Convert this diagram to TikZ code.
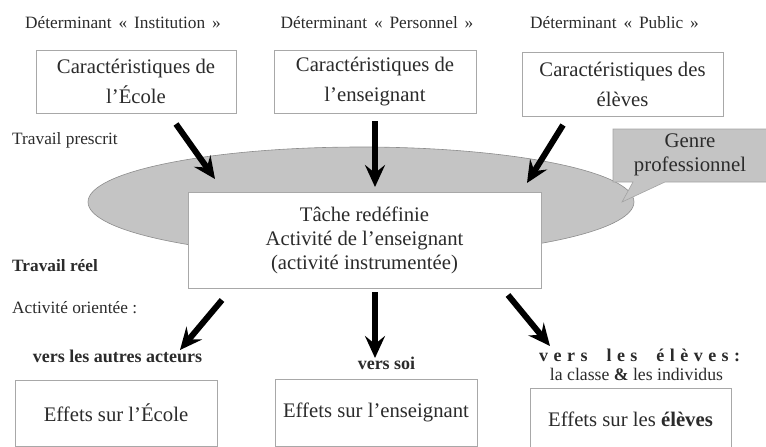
\documentclass[tikz,border=0pt]{standalone}
\usepackage{fontspec}
\setmainfont{Liberation Serif}
\usetikzlibrary{arrows.meta,shapes.geometric}
\definecolor{txt}{HTML}{2B2B2B}
\definecolor{bord}{HTML}{A8A8A8}
\definecolor{ellf}{HTML}{C4C4C4}
\definecolor{ellb}{HTML}{8C8C8C}
\newcommand{\gsp}{\hspace{2.6pt}}
\begin{document}
\begin{tikzpicture}[x=1pt,y=-1pt,
  every node/.style={text=txt, inner sep=0pt},
  box/.style={draw=bord, line width=0.8pt, fill=white, align=center, font=\fontsize{20.7}{30}\selectfont},
  lab/.style={font=\fontsize{17.3}{20}\selectfont},
  blab/.style={font=\fontsize{18}{21}\selectfont\bfseries},
  big/.style={-{Stealth[length=22pt,width=20pt,inset=8pt]}, line width=6pt, black},
]
\useasboundingbox (0,0) rectangle (766,447);
% ellipse
\node[ellipse, draw=ellb, fill=ellf, line width=0.6pt, minimum width=546pt, minimum height=110pt] (ell) at (361,202) {};
% callout
\draw[fill=ellf, draw=ellb!80, line width=0.6pt] (613,129) -- (772,129) -- (772,182) -- (665,182) -- (622,202) -- (633,182) -- (613,182) -- cycle;
\node[align=center, font=\fontsize{20.8}{24}\selectfont] (genre) at (690,155) {Genre\\professionnel};
% central box
\node[box, minimum width=353pt, minimum height=96pt, font=\fontsize{20.7}{24}\selectfont] (tache) at (364.5,240) {Tâche redéfinie\\Activité de l’enseignant\\(activité instrumentée)};
% top labels
\node[lab, anchor=base] (d1) at (123,28) {Déterminant\gsp{} «\gsp{} Institution\gsp{} »};
\node[lab, anchor=base] (d2) at (377,28) {Déterminant\gsp{} «\gsp{} Personnel\gsp{} »};
\node[lab, anchor=base] (d3) at (614.5,28) {Déterminant\gsp{} «\gsp{} Public\gsp{} »};
% top boxes
\node[box, minimum width=200pt, minimum height=63pt] (b1) at (136,81.5) {Caractéristiques de\\l’École};
\node[box, minimum width=202pt, minimum height=63pt] (b2) at (375,81.5) {Caractéristiques de\\l’enseignant};
\node[box, minimum width=201pt, minimum height=64pt] (b3) at (622.5,84) {Caractéristiques des\\élèves};
% side labels
\node[lab, anchor=base west] (tp) at (12,144) {Travail prescrit};
\node[blab, font=\fontsize{17.3}{21}\selectfont\bfseries, anchor=base west] (tr) at (12,271) {Travail réel};
\node[lab, anchor=base west] (ao) at (12,313) {Activité orientée :};
% lower labels
\node[blab, anchor=base] (v1) at (117.5,362) {vers les autres acteurs};
\node[blab, anchor=base] (v2) at (386.5,369) {vers soi};
\node[blab, anchor=base west] (v3) at (539,361) {\makebox[201pt][s]{v\hfil e\hfil r\hfil s\hskip 8pt plus 2fil\relax l\hfil e\hfil s\hskip 8pt plus 2fil\relax é\hfil l\hfil è\hfil v\hfil e\hfil s\hfil :}};
\node[font=\fontsize{17.7}{21}\selectfont, anchor=base] (v3b) at (636.5,380) {la classe \textbf{\&} les individus};
% bottom boxes
\node[box, minimum width=202pt, minimum height=66pt] (e1) at (116,413) {Effets sur l’École};
\node[box, minimum width=202pt, minimum height=67pt] (e2) at (376,412.5) {Effets sur l’enseignant};
\node[box, minimum width=201pt, minimum height=62pt] (e3) at (630.5,419) {Effets sur les \textbf{élèves}};
% arrow endpoints
\coordinate (a1s) at (176,124); \coordinate (a1e) at (215,179);
\coordinate (a2s) at (375,121); \coordinate (a2e) at (375,187);
\coordinate (a3s) at (563,125); \coordinate (a3e) at (527,183);
\coordinate (a4s) at (222,300); \coordinate (a4e) at (180,350);
\coordinate (a5s) at (375,292); \coordinate (a5e) at (375,358);
\coordinate (a6s) at (508,295); \coordinate (a6e) at (550,346);
\foreach \i in {1,...,6} {\draw[big] (a\i s) -- (a\i e);}
\end{tikzpicture}
\end{document}
